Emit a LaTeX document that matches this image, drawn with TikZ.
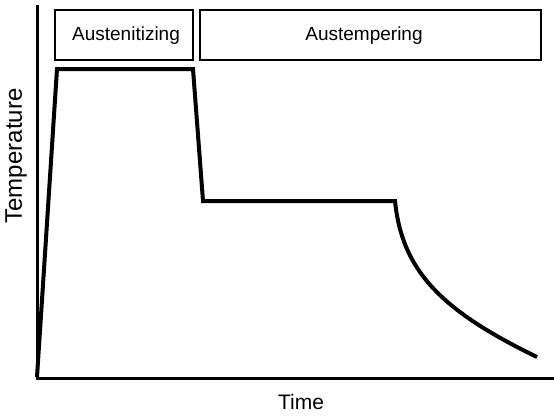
\documentclass[tikz,border=0pt]{standalone}
\usepackage{fontspec}
\setmainfont{Liberation Sans}
\begin{document}
\begin{tikzpicture}[x=1pt,y=-1pt,
  axisline/.style={line width=3pt},
  curveline/.style={line width=4pt,line join=miter},
  phasebox/.style={draw,line width=2.5pt},
  lbl/.style={inner sep=0pt,font=\fontsize{19}{22}\selectfont}]
\useasboundingbox[fill=white] (0,0) rectangle (554,418);
% boxes
\draw[phasebox] (55,10) rectangle (193,60);
\draw[phasebox] (200,10) rectangle (541,60);
\node[lbl] (aus) at (126,36) {Austenitizing};
\node[lbl] (aust) at (364,36) {Austempering};
% axes
\coordinate (o) at (37,378);
\coordinate (ytop) at (37,5);
\coordinate (xend) at (554,378);
\draw[axisline] (ytop) -- (o) -- (xend);
\node[lbl,font=\fontsize{24}{28}\selectfont,rotate=90] (temp) at (16,156) {Temperature};
\node[lbl,font=\fontsize{21}{25}\selectfont] (time) at (301,402) {Time};
% curve
\draw[curveline] (37,377) -- (57,69) -- (193,69) -- (203,201) -- (395,201)
  .. controls (402,270) and (440,310) .. (537,357);
\end{tikzpicture}
\end{document}
